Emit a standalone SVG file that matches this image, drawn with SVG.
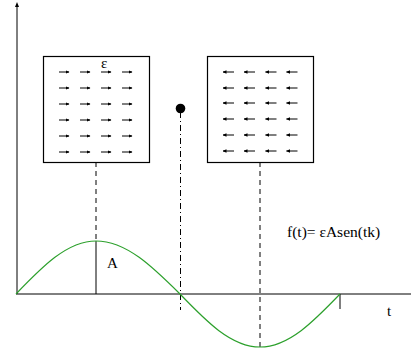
<svg xmlns="http://www.w3.org/2000/svg" width="411" height="356" viewBox="0 0 411 356">
<defs>
<marker id="ah" markerWidth="4" markerHeight="4" refX="3.5" refY="2" orient="auto" markerUnits="userSpaceOnUse"><path d="M0,0.3 L4,2 L0,3.7 Z" fill="#000"/></marker>
<marker id="axh" markerWidth="4" markerHeight="4" refX="2" refY="0.5" orient="auto" markerUnits="userSpaceOnUse"><path d="M0,0 L4,0 L2,-3 Z" fill="#000"/></marker>
<style>
.ax{stroke:#000;stroke-width:1;fill:none}
.box{fill:#fff;stroke:#000;stroke-width:1.2}
.fa{stroke:#000;stroke-width:1;marker-end:url(#ah)}
.dash{stroke:#000;stroke-width:1;stroke-dasharray:5 4;fill:none}
.dd{stroke:#000;stroke-width:1;stroke-dasharray:6 3 1 3;fill:none}
.txt{font-family:"Liberation Serif","Times New Roman",serif;fill:#000}
</style>
</defs>
<g id="axes">
<line class="ax" x1="17" y1="294" x2="17" y2="6"/>
<path d="M15,7 L17,2 L19,7 Z" fill="#000"/>
<line class="ax" x1="16" y1="294" x2="411" y2="294"/>
<line class="ax" x1="340" y1="294" x2="340" y2="309"/>
</g>
<g id="connectors">
<line class="dash" x1="96" y1="162" x2="96" y2="241"/>
<line class="ax" x1="96" y1="241" x2="96" y2="294"/>
<line class="dd" x1="180.5" y1="112" x2="180.5" y2="310"/>
<line class="dash" x1="260" y1="162" x2="260" y2="347"/>
</g>
<g id="wave">
<path d="M16,294 C42.1,266.85 67.05,241 96,241 C126.4,241 152.6,266.85 180,294 C206.1,321.15 231.05,347 260,347 C288.95,347 313.9,321.15 340,294" fill="none" stroke="#2ca02c" stroke-width="1.2"/>
</g>
<g id="box-left">
<rect class="box" x="43.5" y="56.5" width="106" height="106"/>
<text class="txt" x="101" y="68" font-size="15">ε</text>
<g class="fa">
<line x1="59" y1="72" x2="69" y2="72"/><line x1="80" y1="72" x2="90" y2="72"/><line x1="101" y1="72" x2="111" y2="72"/><line x1="122" y1="72" x2="132" y2="72"/>
<line x1="59" y1="88" x2="69" y2="88"/><line x1="80" y1="88" x2="90" y2="88"/><line x1="101" y1="88" x2="111" y2="88"/><line x1="122" y1="88" x2="132" y2="88"/>
<line x1="59" y1="104" x2="69" y2="104"/><line x1="80" y1="104" x2="90" y2="104"/><line x1="101" y1="104" x2="111" y2="104"/><line x1="122" y1="104" x2="132" y2="104"/>
<line x1="59" y1="120" x2="69" y2="120"/><line x1="80" y1="120" x2="90" y2="120"/><line x1="101" y1="120" x2="111" y2="120"/><line x1="122" y1="120" x2="132" y2="120"/>
<line x1="59" y1="136" x2="69" y2="136"/><line x1="80" y1="136" x2="90" y2="136"/><line x1="101" y1="136" x2="111" y2="136"/><line x1="122" y1="136" x2="132" y2="136"/>
<line x1="59" y1="152" x2="69" y2="152"/><line x1="80" y1="152" x2="90" y2="152"/><line x1="101" y1="152" x2="111" y2="152"/><line x1="122" y1="152" x2="132" y2="152"/>
</g>
</g>
<g id="box-right">
<rect class="box" x="207.5" y="56.5" width="106" height="106"/>
<g class="fa">
<line x1="234" y1="72" x2="223" y2="72"/><line x1="255" y1="72" x2="244" y2="72"/><line x1="276.5" y1="72" x2="265.5" y2="72"/><line x1="297.5" y1="72" x2="286.5" y2="72"/>
<line x1="234" y1="88" x2="223" y2="88"/><line x1="255" y1="88" x2="244" y2="88"/><line x1="276.5" y1="88" x2="265.5" y2="88"/><line x1="297.5" y1="88" x2="286.5" y2="88"/>
<line x1="234" y1="103" x2="223" y2="103"/><line x1="255" y1="103" x2="244" y2="103"/><line x1="276.5" y1="103" x2="265.5" y2="103"/><line x1="297.5" y1="103" x2="286.5" y2="103"/>
<line x1="234" y1="119" x2="223" y2="119"/><line x1="255" y1="119" x2="244" y2="119"/><line x1="276.5" y1="119" x2="265.5" y2="119"/><line x1="297.5" y1="119" x2="286.5" y2="119"/>
<line x1="234" y1="135" x2="223" y2="135"/><line x1="255" y1="135" x2="244" y2="135"/><line x1="276.5" y1="135" x2="265.5" y2="135"/><line x1="297.5" y1="135" x2="286.5" y2="135"/>
<line x1="234" y1="151" x2="223" y2="151"/><line x1="255" y1="151" x2="244" y2="151"/><line x1="276.5" y1="151" x2="265.5" y2="151"/><line x1="297.5" y1="151" x2="286.5" y2="151"/>
</g>
</g>
<g id="charge">
<circle cx="180.5" cy="108.5" r="4.8" fill="#000"/>
</g>
<g id="labels">
<text class="txt" x="107" y="268" font-size="15">A</text>
<text class="txt" x="387" y="316" font-size="15">t</text>
<text class="txt" x="287" y="237" font-size="15.5">f(t)= εAsen(tk)</text>
</g>
</svg>
